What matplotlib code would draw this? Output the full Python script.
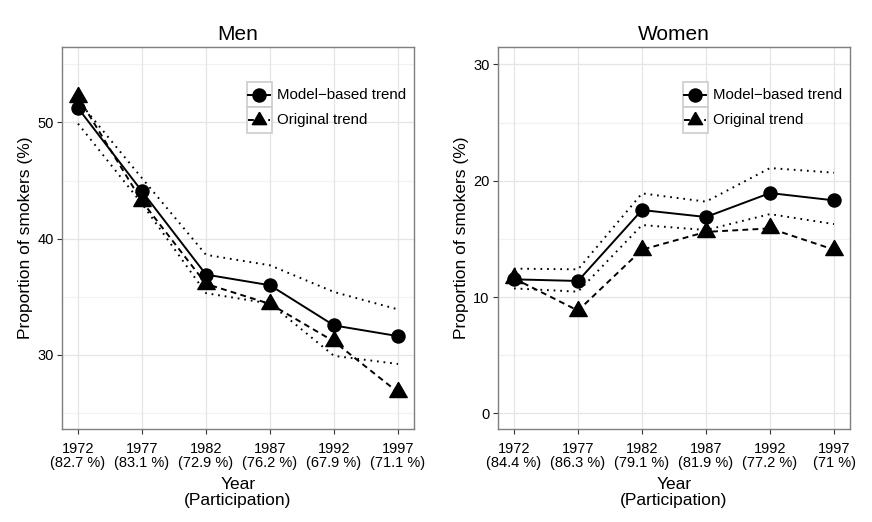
import matplotlib.pyplot as plt
from matplotlib.patches import Rectangle
from matplotlib.lines import Line2D

plt.rcParams['font.family'] = ['Liberation Sans', 'DejaVu Sans']

# data
years = ['1972', '1977', '1982', '1987', '1992', '1997']
part_men = ['82.7', '83.1', '72.9', '76.2', '67.9', '71.1']
part_women = ['84.4', '86.3', '79.1', '81.9', '77.2', '71']

men_model = [51.24, 44.07, 36.9, 35.98, 32.52, 31.6]
men_upper = [51.9, 45.2, 38.6, 37.7, 35.4, 33.9]
men_lower = [49.9, 43.0, 35.3, 34.4, 29.9, 29.2]
men_orig = [52.2, 43.2, 36.1, 34.37, 31.14, 26.76]

women_model = [11.52, 11.38, 17.48, 16.88, 18.94, 18.31]
women_upper = [12.44, 12.38, 18.91, 18.2, 21.09, 20.69]
women_lower = [10.74, 10.46, 16.19, 15.76, 17.13, 16.27]
women_orig = [11.6, 8.83, 14.07, 15.6, 15.9, 14.07]

# R style triangle (centred on centroid)
tri = [(0, 1.555), (1.3468, -0.7776), (-1.3468, -0.7776), (0, 1.555)]

LW = 1.4
CIRC_MS = 9.4
TRI_MS = 14.5
DOT = (0, (0.9, 2.5))
DASH = (0, (3.0, 2.2))


def panel(ax, title, model, upper, lower, orig, part, ylim, yticks, yminor):
    x = list(range(len(years)))
    ax.set_facecolor('white')
    for v in yminor:
        ax.axhline(v, color='#f2f2f2', lw=0.9, zorder=0)
    for v in yticks:
        ax.axhline(v, color='#e5e5e5', lw=0.9, zorder=0)
    for v in x:
        ax.axvline(v, color='#e5e5e5', lw=0.9, zorder=0)

    ax.plot(x, upper, color='black', lw=LW, linestyle=DOT, zorder=2)
    ax.plot(x, lower, color='black', lw=LW, linestyle=DOT, zorder=2)
    ax.plot(x, orig, color='black', lw=LW, linestyle=DASH, marker=tri,
            markersize=TRI_MS, zorder=3)
    ax.plot(x, model, color='black', lw=LW, marker='o',
            markersize=CIRC_MS, zorder=4)

    ax.set_xlim(-0.25, 5.25)
    ax.set_ylim(*ylim)
    ax.set_xticks(x)
    ax.set_xticklabels([f'{y}\n({p} %)' for y, p in zip(years, part)],
                       linespacing=1.05)
    ax.set_yticks(yticks)
    ax.tick_params(axis='both', length=3.6, width=0.8, color='#333333',
                   labelsize=10.5, labelcolor='black', pad=2.5)
    ax.tick_params(axis='x', pad=5.5)
    for s in ax.spines.values():
        s.set_color('#7f7f7f')
        s.set_linewidth(1.0)
    ax.set_title(title, fontsize=15, pad=5)
    ax.set_xlabel('Year\n(Participation)', fontsize=12.5, linespacing=1.1,
                  labelpad=5)
    ax.set_ylabel('Proportion of smokers (%)', fontsize=12.5, labelpad=3)

    # legend drawn like ggplot keys
    kx0, kw = 0.5247, 0.071
    rows = [(0.842, 0.067, '-', 'o', CIRC_MS, 'Model\u2212based trend'),
            (0.775, 0.067, DASH, tri, TRI_MS * 0.82, 'Original trend')]
    for y0, h, ls, mk, ms, lab in rows:
        ax.add_patch(Rectangle((kx0, y0), kw, h, transform=ax.transAxes,
                               facecolor='white', edgecolor='#cccccc',
                               lw=1.2, zorder=5))
        yc = y0 + h / 2
        ax.add_line(Line2D([kx0 + 0.004, kx0 + kw - 0.004], [yc, yc],
                           transform=ax.transAxes, color='black', lw=LW,
                           linestyle=ls, zorder=6))
        ax.add_line(Line2D([kx0 + kw / 2], [yc], transform=ax.transAxes,
                           marker=mk, markersize=ms, color='black',
                           linestyle='none', zorder=7))
        ax.text(0.61, yc, lab, transform=ax.transAxes, fontsize=10.8,
                va='center', ha='left', zorder=6)


fig = plt.figure(figsize=(8.72, 5.22), dpi=100)
b = 1 - 429 / 522
h = (429 - 47) / 522
ax1 = fig.add_axes([62 / 872, b, 352 / 872, h])
ax2 = fig.add_axes([498 / 872, b, 352 / 872, h])

panel(ax1, 'Men', men_model, men_upper, men_lower, men_orig, part_men,
      (23.6, 56.5), [30, 40, 50], [25, 35, 45, 55])
panel(ax2, 'Women', women_model, women_upper, women_lower, women_orig,
      part_women, (-1.35, 31.5), [0, 10, 20, 30], [5, 15, 25])

fig.savefig('out.png', dpi=100)
